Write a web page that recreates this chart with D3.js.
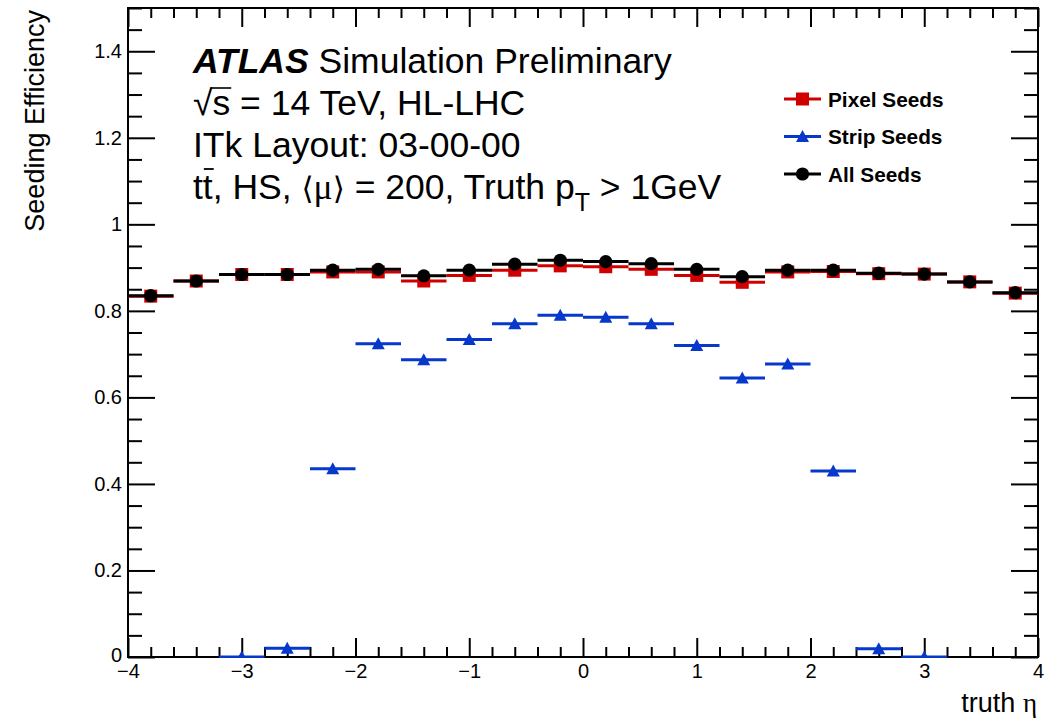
<!DOCTYPE html>
<html>
<head>
<meta charset="utf-8">
<script src="https://cdn.jsdelivr.net/npm/d3@7"></script>
<style>
  html, body { margin: 0; padding: 0; background: #fff; }
  svg { display: block; }
  text { font-family: "Liberation Sans", Arial, Helvetica, sans-serif; fill: #000; }
</style>
</head>
<body>
<svg id="chart" width="1053" height="718"></svg>
<script>
// Bin centres in truth eta (bin width 0.4)
const etaBins = [-3.8, -3.4, -3.0, -2.6, -2.2, -1.8, -1.4, -1.0, -0.6, -0.2,
                  0.2,  0.6,  1.0,  1.4,  1.8,  2.2,  2.6,  3.0,  3.4,  3.8];
const binHalfWidth = 0.2;

// Seeding efficiency per bin
const pixelSeeds = [0.834, 0.869, 0.884, 0.884, 0.890, 0.890, 0.869, 0.882, 0.894, 0.904,
                    0.902, 0.896, 0.882, 0.866, 0.890, 0.891, 0.886, 0.885, 0.867, 0.841];
const stripSeeds = [null,  null,  0.000, 0.020, 0.435, 0.724, 0.687, 0.734, 0.770, 0.790,
                    0.785, 0.770, 0.720, 0.645, 0.677, 0.430, 0.019, 0.000, null,  null];
const allSeeds   = [0.835, 0.869, 0.884, 0.884, 0.894, 0.896, 0.881, 0.894, 0.908, 0.917,
                    0.914, 0.909, 0.896, 0.879, 0.894, 0.894, 0.887, 0.885, 0.867, 0.842];

const seriesNames = ["Pixel Seeds", "Strip Seeds", "All Seeds"];

// Axis ticks
const xMajorTicks = [-4, -3, -2, -1, 0, 1, 2, 3, 4];
const yMajorTicks = [0, 0.2, 0.4, 0.6, 0.8, 1, 1.2, 1.4];
const xDomain = [-4, 4];
const yDomain = [0, 1.5];

const svg = d3.select("#chart");
const frame = { left: 128, right: 1038, top: 8, bottom: 657 };

const x = d3.scaleLinear().domain(xDomain).range([frame.left, frame.right]);
const y = d3.scaleLinear().domain(yDomain).range([frame.bottom, frame.top]);

const RED = "#d00000", BLUE = "#0638cc", BLACK = "#000";
const tickFmt = d3.format("~g");

// ---- axes with inward ticks ----
const xMinor = d3.range(-4, 4.0001, 0.2).map(v => +v.toFixed(2)).filter(v => !xMajorTicks.includes(v));
const yMinor = d3.range(0, 1.5001, 0.05).map(v => +v.toFixed(2)).filter(v => !yMajorTicks.includes(v));

const axisStyle = g => {
  g.select(".domain").remove();
  g.selectAll(".tick line").attr("stroke", "#000").attr("stroke-width", 2);
};

// bottom
svg.append("g").attr("transform", `translate(0,${frame.bottom})`)
  .call(d3.axisBottom(x).tickValues(xMajorTicks).tickSize(-19).tickPadding(7).tickFormat(tickFmt))
  .call(axisStyle)
  .call(g => g.selectAll("text").attr("font-size", 20).attr("font-family", "Liberation Sans, Arial, sans-serif"));
svg.append("g").attr("transform", `translate(0,${frame.bottom})`)
  .call(d3.axisBottom(x).tickValues(xMinor).tickSize(-10).tickFormat(""))
  .call(axisStyle);
// top
svg.append("g").attr("transform", `translate(0,${frame.top})`)
  .call(d3.axisTop(x).tickValues(xMajorTicks).tickSize(-19).tickFormat(""))
  .call(axisStyle);
svg.append("g").attr("transform", `translate(0,${frame.top})`)
  .call(d3.axisTop(x).tickValues(xMinor).tickSize(-10).tickFormat(""))
  .call(axisStyle);
// left
svg.append("g").attr("transform", `translate(${frame.left},0)`)
  .call(d3.axisLeft(y).tickValues(yMajorTicks).tickSize(-27).tickPadding(6).tickFormat(tickFmt))
  .call(axisStyle)
  .call(g => g.selectAll("text").attr("font-size", 20).attr("font-family", "Liberation Sans, Arial, sans-serif"))
  .call(g => g.selectAll(".tick").filter(d => d === 0).select("text").attr("dy", "0.22em"));
svg.append("g").attr("transform", `translate(${frame.left},0)`)
  .call(d3.axisLeft(y).tickValues(yMinor).tickSize(-14).tickFormat(""))
  .call(axisStyle);
// right
svg.append("g").attr("transform", `translate(${frame.right},0)`)
  .call(d3.axisRight(y).tickValues(yMajorTicks).tickSize(-27).tickFormat(""))
  .call(axisStyle);
svg.append("g").attr("transform", `translate(${frame.right},0)`)
  .call(d3.axisRight(y).tickValues(yMinor).tickSize(-14).tickFormat(""))
  .call(axisStyle);

// frame
svg.append("rect")
  .attr("x", frame.left).attr("y", frame.top)
  .attr("width", frame.right - frame.left).attr("height", frame.bottom - frame.top)
  .attr("fill", "none").attr("stroke", "#000").attr("stroke-width", 2);

// ---- data ----
svg.append("clipPath").attr("id", "plotclip")
  .append("rect")
  .attr("x", frame.left).attr("y", frame.top - 2)
  .attr("width", frame.right - frame.left).attr("height", frame.bottom - frame.top + 3);

const plot = svg.append("g").attr("clip-path", "url(#plotclip)");

const markerPath = {
  square: () => "M-6.5,-6.5H6.5V6.5H-6.5Z",
  circle: () => d3.symbol(d3.symbolCircle, Math.PI * 6.6 * 6.6)(),
  triangle: () => "M0,-6.5L6.5,5.5L-6.5,5.5Z"
};

function drawSeries(values, color, marker) {
  const pts = etaBins.map((c, i) => ({ c, v: values[i] })).filter(d => d.v !== null);
  const g = plot.append("g");
  g.selectAll("line").data(pts).join("line")
    .attr("x1", d => x(d.c - binHalfWidth)).attr("x2", d => x(d.c + binHalfWidth))
    .attr("y1", d => y(d.v)).attr("y2", d => y(d.v))
    .attr("stroke", color).attr("stroke-width", 3);
  g.selectAll("path").data(pts).join("path")
    .attr("d", markerPath[marker]())
    .attr("transform", d => `translate(${x(d.c)},${y(d.v)})`)
    .attr("fill", color);
}

drawSeries(pixelSeeds, RED, "square");
drawSeries(stripSeeds, BLUE, "triangle");
drawSeries(allSeeds, BLACK, "circle");

// ---- legend ----
const legendItems = [
  { name: seriesNames[0], color: RED, marker: "square" },
  { name: seriesNames[1], color: BLUE, marker: "triangle" },
  { name: seriesNames[2], color: BLACK, marker: "circle" }
];
const leg = svg.append("g");
legendItems.forEach((it, i) => {
  const cy = 99 + i * 37.5;
  leg.append("line").attr("x1", 784).attr("x2", 821).attr("y1", cy).attr("y2", cy)
    .attr("stroke", it.color).attr("stroke-width", 3);
  leg.append("path").attr("d", markerPath[it.marker]())
    .attr("transform", `translate(802.5,${cy})`).attr("fill", it.color);
  leg.append("text").attr("x", 828).attr("y", cy + 7.5)
    .attr("font-size", 20.8).attr("font-weight", "bold").text(it.name);
});

// ---- axis titles ----
svg.append("text")
  .attr("transform", "translate(44,10) rotate(-90)")
  .attr("text-anchor", "end").attr("font-size", 27)
  .text("Seeding Efficiency");

const xt = svg.append("text").attr("x", 1037).attr("y", 712)
  .attr("text-anchor", "end").attr("font-size", 27);
xt.append("tspan").text("truth ");
xt.append("tspan").attr("font-family", "Liberation Serif, Times New Roman, serif").text("η");

// ---- ATLAS label ----
const tx = 193, fs = 35.5;
const l1 = svg.append("text").attr("x", tx).attr("y", 73).attr("font-size", fs);
l1.append("tspan").attr("font-weight", "bold").attr("font-style", "italic").text("ATLAS");
l1.append("tspan").text(" Simulation Preliminary");

const l2 = svg.append("text").attr("x", tx).attr("y", 115).attr("font-size", fs);
l2.append("tspan").text("√");
l2.append("tspan").text("s");
l2.append("tspan").text(" = 14 TeV, HL-LHC");
{
  const n = l2.node();
  const end = n.getEndPositionOfChar(1).x;
  const rootEnd = n.getEndPositionOfChar(0).x;
  svg.append("line").attr("x1", rootEnd - 2).attr("x2", end + 1)
    .attr("y1", 115 - 27).attr("y2", 115 - 27)
    .attr("stroke", "#000").attr("stroke-width", 1.6);
}

svg.append("text").attr("x", tx).attr("y", 157).attr("font-size", fs)
  .text("ITk Layout: 03-00-00");

const l4 = svg.append("text").attr("x", tx).attr("y", 199).attr("font-size", fs);
l4.append("tspan").text("tt, HS, ");
l4.append("tspan").attr("font-family", "DejaVu Sans, sans-serif").attr("font-size", 31).text("⟨");
l4.append("tspan").attr("font-family", "Liberation Serif, serif").text("μ");
l4.append("tspan").attr("font-family", "DejaVu Sans, sans-serif").attr("font-size", 31).text("⟩");
l4.append("tspan").text(" = 200, Truth p");
l4.append("tspan").attr("font-size", 25).attr("dy", 12).text("T");
l4.append("tspan").attr("dy", -12).text(" > 1GeV");
{
  // bar over the second t of "tt"
  const n = l4.node();
  const s = n.getStartPositionOfChar(1).x;
  const e = n.getEndPositionOfChar(1).x;
  svg.append("line").attr("x1", s + 1).attr("x2", e + 1)
    .attr("y1", 199 - 30).attr("y2", 199 - 30)
    .attr("stroke", "#000").attr("stroke-width", 1.8);
}
</script>
</body>
</html>
